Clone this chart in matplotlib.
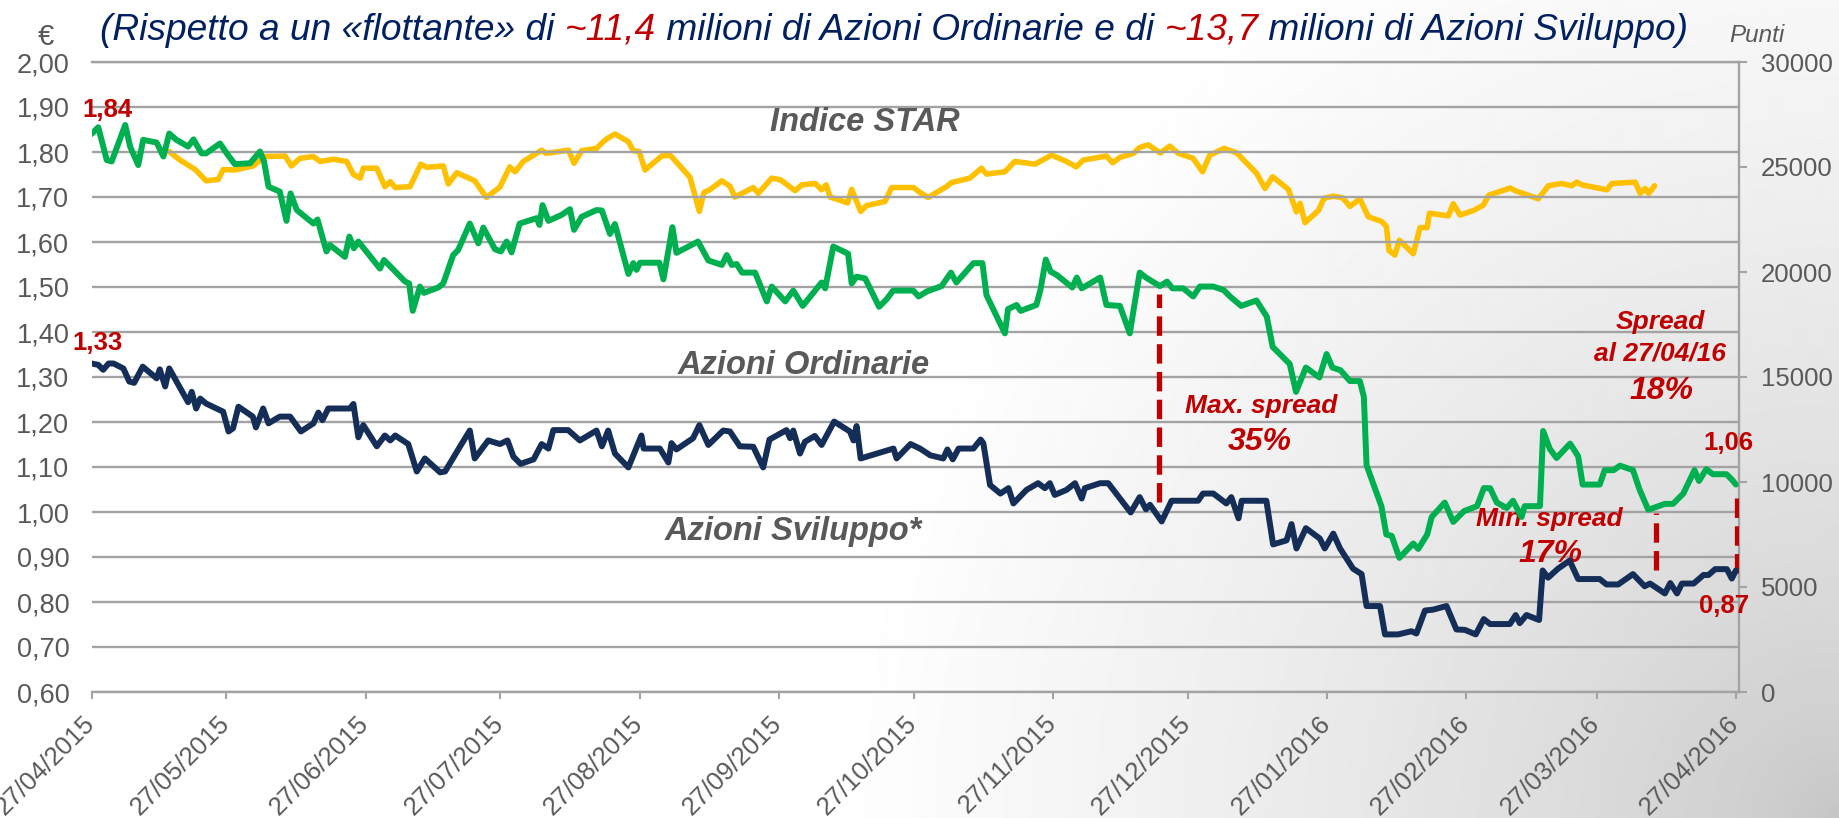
import numpy as np
import pandas as pd
import matplotlib
matplotlib.use("Agg")
import matplotlib.pyplot as plt
import matplotlib.dates as mdates
from matplotlib.transforms import ScaledTranslation

plt.rcParams['font.family'] = ['Liberation Sans', 'DejaVu Sans']
plt.rcParams['lines.scale_dashes'] = False

# ---------------- data ----------------
START = pd.Timestamp('2015-04-27')   # day 0 of the day offsets below

# Azioni Ordinarie (EUR)
ord_days = [0, 1.5, 3.4, 4.5, 7.5, 8.6, 10.4, 11.5, 14.5, 16.0, 17.3, 18.9, 21.5, 22.7, 24.5, 25.5,
            28.6, 30.1, 31.9, 35.3, 37.5, 38.4, 39.4, 41.9, 43.4, 44.3, 45.7, 49.4, 50.3, 52.3, 53.1,
            56.4, 57.4, 58.4, 59.4, 64.2, 65.1, 69.8, 70.7, 71.5, 73.1, 74.0, 77.2, 78.3, 80.5, 81.6,
            84.2, 86.1, 87.2, 89.8, 91.1, 92.4, 93.5, 95.3, 99.1, 99.7, 100.4, 101.7, 104.6, 106.5,
            107.4, 109.1, 112.4, 113.6, 115.4, 116.5, 119.5, 120.6, 121.3, 122.1, 126.4, 127.3,
            129.3, 130.2, 135.0, 137.3, 140.3, 141.4, 142.5, 143.6, 144.8, 147.7, 150.3, 151.4,
            154.4, 156.2, 158.3, 162.5, 163.3, 165.1, 168.4, 169.2, 170.3, 172.2, 175.3, 177.0,
            178.4, 182.9, 184.1, 185.9, 189.2, 191.3, 192.5, 196.3, 198.3, 199.2, 203.3, 204.0,
            205.9, 206.8, 210.3, 211.2, 212.4, 213.5, 214.8, 218.3, 219.3, 220.4, 224.5, 225.9,
            228.9, 231.1, 233.3, 234.7, 237.8, 239.4, 240.6, 243.0, 245.2, 246.7, 249.7, 252.0,
            253.4, 255.9, 259.3, 261.6, 262.9, 266.7, 268.1, 270.3, 273.3, 274.9, 276.2, 278.0,
            280.1, 282.3, 283.2, 283.8, 287.1, 288.2, 289.4, 291.1, 294.2, 295.3, 297.3, 298.3,
            301.2, 303.1, 305.5, 308.4, 309.9, 311.3, 312.8, 315.0, 316.4, 318.3, 319.0, 322.4,
            323.1, 324.6, 326.1, 329.1, 330.9, 331.9, 335.7, 336.8, 338.8, 340.2, 343.1, 344.6,
            346.5, 350.2, 352.0, 354.3, 356.8, 357.8, 359.4, 360.9, 363.9, 365.2, 366.0]
ord_vals = [1.840, 1.855, 1.782, 1.779, 1.860, 1.812, 1.771, 1.827, 1.821, 1.790, 1.841, 1.827,
            1.812, 1.828, 1.797, 1.797, 1.819, 1.797, 1.773, 1.775, 1.801, 1.779, 1.723, 1.712,
            1.647, 1.708, 1.671, 1.641, 1.650, 1.579, 1.593, 1.567, 1.612, 1.586, 1.601, 1.541,
            1.560, 1.512, 1.508, 1.447, 1.501, 1.487, 1.499, 1.508, 1.571, 1.582, 1.641, 1.597,
            1.632, 1.584, 1.579, 1.601, 1.577, 1.641, 1.653, 1.638, 1.682, 1.647, 1.660, 1.673,
            1.627, 1.656, 1.671, 1.670, 1.618, 1.640, 1.529, 1.553, 1.538, 1.554, 1.554, 1.517,
            1.633, 1.576, 1.601, 1.559, 1.549, 1.571, 1.549, 1.551, 1.532, 1.532, 1.468, 1.501,
            1.468, 1.492, 1.458, 1.510, 1.497, 1.590, 1.574, 1.508, 1.523, 1.519, 1.456, 1.473,
            1.492, 1.492, 1.479, 1.490, 1.502, 1.532, 1.510, 1.553, 1.553, 1.482, 1.397, 1.451,
            1.460, 1.447, 1.460, 1.493, 1.561, 1.534, 1.527, 1.499, 1.521, 1.497, 1.521, 1.460,
            1.458, 1.397, 1.532, 1.521, 1.502, 1.512, 1.497, 1.497, 1.479, 1.501, 1.501, 1.493,
            1.479, 1.458, 1.470, 1.434, 1.367, 1.329, 1.267, 1.321, 1.299, 1.351, 1.321, 1.315,
            1.291, 1.291, 1.256, 1.104, 1.013, 0.950, 0.947, 0.898, 0.930, 0.918, 0.950, 0.989,
            1.021, 0.978, 1.002, 1.013, 1.053, 1.053, 1.021, 1.009, 1.025, 0.989, 1.013, 1.013,
            1.180, 1.140, 1.120, 1.152, 1.124, 1.061, 1.061, 1.093, 1.093, 1.103, 1.093, 1.049,
            1.005, 1.018, 1.018, 1.041, 1.093, 1.069, 1.095, 1.084, 1.084, 1.071, 1.061]

# Azioni Sviluppo (EUR)
svi_days = [0, 1.5, 2.6, 3.8, 4.9, 7.1, 8.4, 9.5, 11.4, 14.5, 15.2, 16.4, 17.3, 21.5, 22.3, 23.3,
            24.2, 25.5, 29.3, 30.5, 31.5, 32.7, 35.9, 36.6, 38.2, 39.4, 41.9, 44.2, 46.6, 49.4,
            50.5, 51.4, 52.7, 57.5, 58.3, 59.4, 60.5, 63.5, 65.3, 66.5, 67.6, 70.5, 72.4, 74.2,
            77.6, 78.7, 82.0, 84.2, 85.3, 88.3, 90.9, 92.6, 93.9, 95.5, 98.4, 100.2, 101.7, 102.8,
            106.1, 108.7, 112.4, 113.6, 115.0, 116.5, 119.5, 122.4, 122.9, 126.5, 128.4, 129.1,
            130.2, 133.9, 135.3, 137.3, 140.6, 142.1, 144.3, 147.3, 149.5, 150.9, 154.7, 155.5,
            156.2, 157.7, 158.8, 161.0, 162.5, 165.3, 168.8, 169.6, 170.3, 171.2, 178.5, 179.2,
            182.3, 184.4, 186.7, 189.6, 190.5, 191.7, 193.0, 196.3, 197.9, 198.5, 200.0, 202.3,
            204.1, 205.2, 208.1, 210.7, 212.2, 213.3, 214.4, 217.0, 218.9, 220.4, 221.1, 224.5,
            226.3, 228.9, 231.3, 233.3, 234.7, 235.6, 238.2, 240.4, 246.3, 247.4, 249.7, 252.6,
            253.7, 255.3, 256.0, 261.5, 263.0, 266.0, 267.1, 268.2, 270.3, 273.4, 274.5, 276.4,
            277.9, 280.8, 282.7, 283.8, 286.8, 287.9, 290.8, 293.8, 294.9, 296.8, 298.6, 301.6,
            303.8, 305.7, 308.1, 309.9, 311.3, 315.7, 317.0, 317.9, 319.4, 322.2, 323.0, 324.2,
            326.4, 329.0, 330.9, 335.7, 337.2, 339.8, 343.1, 345.7, 346.9, 350.2, 351.4, 352.9,
            354.0, 356.6, 358.8, 359.9, 361.4, 364.0, 365.1, 366.0]
svi_vals = [1.330, 1.327, 1.316, 1.330, 1.330, 1.319, 1.290, 1.287, 1.323, 1.297, 1.317, 1.279,
            1.319, 1.244, 1.267, 1.230, 1.252, 1.241, 1.223, 1.179, 1.186, 1.234, 1.212, 1.188,
            1.230, 1.197, 1.212, 1.212, 1.179, 1.197, 1.221, 1.204, 1.230, 1.230, 1.240, 1.166,
            1.193, 1.146, 1.170, 1.159, 1.170, 1.151, 1.090, 1.119, 1.088, 1.090, 1.145, 1.181,
            1.119, 1.159, 1.151, 1.159, 1.123, 1.107, 1.117, 1.151, 1.141, 1.182, 1.182, 1.159,
            1.181, 1.146, 1.181, 1.130, 1.099, 1.170, 1.141, 1.141, 1.110, 1.153, 1.139, 1.164,
            1.193, 1.149, 1.181, 1.179, 1.146, 1.145, 1.099, 1.161, 1.182, 1.164, 1.181, 1.130,
            1.156, 1.169, 1.149, 1.201, 1.179, 1.159, 1.191, 1.119, 1.141, 1.119, 1.151, 1.141,
            1.126, 1.119, 1.139, 1.117, 1.141, 1.141, 1.161, 1.153, 1.060, 1.041, 1.053, 1.019,
            1.049, 1.064, 1.053, 1.064, 1.038, 1.049, 1.064, 1.030, 1.053, 1.064, 1.064, 1.030,
            0.999, 1.033, 1.006, 1.016, 0.979, 1.025, 1.025, 1.041, 1.041, 1.019, 1.033, 0.986,
            1.025, 1.025, 0.928, 0.937, 0.973, 0.919, 0.964, 0.941, 0.919, 0.952, 0.919, 0.874,
            0.862, 0.791, 0.791, 0.728, 0.728, 0.735, 0.730, 0.781, 0.783, 0.791, 0.739, 0.738,
            0.728, 0.762, 0.751, 0.751, 0.771, 0.753, 0.771, 0.760, 0.870, 0.854, 0.874, 0.892,
            0.851, 0.851, 0.839, 0.839, 0.862, 0.835, 0.841, 0.819, 0.842, 0.819, 0.841, 0.841,
            0.860, 0.860, 0.873, 0.873, 0.852, 0.870]

# Indice STAR (points, right axis)
star_days = [17.3, 19.7, 23.1, 25.5, 28.2, 29.3, 31.9, 36.0, 38.6, 43.1, 44.5, 46.4, 49.4, 50.9,
             53.8, 56.8, 58.3, 59.8, 60.5, 63.5, 65.3, 66.5, 67.6, 70.9, 73.3, 74.6, 78.3, 79.4,
             81.3, 85.3, 87.9, 90.9, 93.1, 94.3, 96.1, 100.2, 101.2, 106.2, 107.4, 109.1, 112.4,
             113.9, 114.8, 116.5, 119.5, 120.6, 121.9, 123.2, 126.9, 128.8, 133.2, 135.3, 136.3,
             137.6, 140.3, 142.1, 143.2, 147.3, 148.4, 151.4, 153.4, 156.6, 158.1, 161.1, 162.5,
             163.5, 164.4, 168.3, 169.2, 171.2, 172.5, 176.6, 178.1, 183.0, 184.4, 186.2, 190.3,
             191.4, 195.5, 198.1, 199.2, 203.3, 205.5, 210.0, 213.7, 217.0, 219.2, 220.7, 225.9,
             227.3, 228.9, 231.9, 233.3, 235.2, 237.9, 240.0, 241.9, 245.2, 247.3, 248.9, 252.1,
             254.9, 259.3, 261.2, 262.9, 266.4, 268.2, 269.0, 270.1, 273.1, 274.3, 276.4, 278.5,
             280.1, 282.3, 284.2, 287.1, 288.2, 288.8, 290.1, 291.1, 294.2, 295.7, 297.3, 297.8,
             302.0, 303.1, 304.6, 307.6, 309.8, 311.0, 315.8, 316.9, 322.0, 324.3, 327.2, 329.5,
             330.6, 331.7, 337.3, 338.4, 343.6, 344.7, 345.8, 346.6, 347.9]
star_pts = [25736, 25329, 24879, 24343, 24407, 24879, 24857, 25050, 25500, 25521, 25050, 25414,
            25500, 25264, 25371, 25264, 24643, 24471, 24943, 24943, 24064, 24300, 24021, 24064,
            25136, 24986, 25050, 24193, 24729, 24343, 23550, 24043, 25007, 24771, 25264, 25800,
            25650, 25800, 25179, 25779, 25886, 26207, 26357, 26571, 26207, 25779, 25736, 24857,
            25521, 25564, 24514, 22886, 23786, 23914, 24343, 24086, 23571, 24021, 23743, 24471,
            24386, 23871, 24150, 24214, 23914, 24150, 23571, 23293, 23936, 22886, 23164, 23357,
            24021, 24021, 23786, 23550, 24064, 24257, 24471, 24943, 24664, 24771, 25264, 25136,
            25564, 25264, 25007, 25329, 25521, 25200, 25457, 25650, 25929, 26057, 25671, 25993,
            25650, 25414, 24771, 25564, 25886, 25671, 24707, 23979, 24536, 23936, 22864, 23271,
            22350, 22929, 23507, 23614, 23529, 23121, 23486, 22629, 22414, 22179, 21021, 20807,
            21514, 20871, 22114, 22114, 22800, 22671, 23250, 22714, 22929, 23186, 23657, 24000,
            23871, 23486, 24107, 24214, 24107, 24279, 24150, 23914, 24214, 24279, 23743, 23979,
            23743, 24107]

# spreads (day offset, upper value, lower value)
spread_days = [237.5, 348.2, 366.2]
spread_top = [1.485, 0.997, 1.050]
spread_bot = [1.023, 0.871, 0.864]

tick_dates = pd.date_range('2015-04-27', periods=13, freq=pd.DateOffset(months=1))
tick_labels = [d.strftime('%d/%m/%Y') for d in tick_dates]
left_ticks = np.round(np.arange(0.6, 2.0001, 0.1), 2)
left_labels = [f"{v:.2f}".replace('.', ',') for v in left_ticks]
right_ticks = list(range(0, 30001, 5000))
right_labels = [str(v) for v in right_ticks]

# ---------------- style ----------------
W, H = 1839, 818
GREEN = '#00B050'
NAVY = '#142E57'
GOLD = '#FFC000'
RED = '#C00000'
GRAY = '#595959'
GRID = '#A3A3A3'
TITLE = '#002060'


def to_num(days):
    return mdates.date2num(START + pd.to_timedelta(np.asarray(days, dtype=float), unit='D'))


fig = plt.figure(figsize=(W / 100, H / 100), dpi=100)
fig.patch.set_facecolor('white')

# soft grey background gradient toward lower right
bg = fig.add_axes([0, 0, 1, 1], zorder=-10)
yy, xx = np.mgrid[0:H:2, 0:W:2]
t = np.sqrt(((W - xx) / 1000.0) ** 2 + ((H - yy) / 1000.0) ** 2)
g = 0.77 + 0.23 * np.clip(t, 0, 1) ** 0.7
bg.imshow(g, cmap='gray', vmin=0, vmax=1, extent=[0, 1, 0, 1], aspect='auto', origin='upper')
bg.axis('off')

ax = fig.add_axes([91.5 / W, 126 / H, (1739 - 91.5) / W, 630 / H])
ax2 = ax.twinx()
ax.set_zorder(ax2.get_zorder() + 1)
ax.patch.set_visible(False)
ax2.patch.set_visible(False)

ax.set_xlim(to_num([0])[0], to_num([366.7])[0])
ax.set_ylim(0.6, 2.0)
ax2.set_ylim(0, 30000)

# lines
ax2.plot(to_num(star_days), star_pts, color=GOLD, lw=4.0, solid_joinstyle='round',
         solid_capstyle='round', zorder=3)
ax.plot(to_num(svi_days), svi_vals, color=NAVY, lw=4.3, solid_joinstyle='round',
        solid_capstyle='round', zorder=4)
ax.plot(to_num(ord_days), ord_vals, color=GREEN, lw=4.3, solid_joinstyle='round',
        solid_capstyle='round', zorder=5)
ax.vlines(to_num(spread_days), spread_bot, spread_top, colors=RED, lw=3.8,
          linestyles=[(0, (14, 6))], zorder=2)

# axes styling
ax.set_yticks(left_ticks, left_labels)
ax.yaxis.grid(True, color=GRID, lw=1.7)
ax.set_axisbelow(True)
for s in ['left', 'right']:
    ax.spines[s].set_visible(False)
for s in ['top', 'bottom']:
    ax.spines[s].set_color(GRID)
    ax.spines[s].set_linewidth(1.7)
ax.tick_params(axis='y', length=0, pad=16.0, labelsize=19.5, labelcolor=GRAY)
ax.set_xticks(tick_dates, tick_labels, rotation=45, ha='right', va='top')
ax.tick_params(axis='x', length=4.7, width=1.5, color=GRID, pad=9.0, labelsize=18.5, labelcolor=GRAY)
offset = ScaledTranslation(8 / 100, 0, fig.dpi_scale_trans)
for lbl in ax.get_xticklabels():
    lbl.set_transform(lbl.get_transform() + offset)

for s in ['left', 'top', 'bottom']:
    ax2.spines[s].set_visible(False)
ax2.spines['right'].set_color(GRID)
ax2.spines['right'].set_linewidth(1.7)
ax2.set_yticks(right_ticks, right_labels)
ax2.tick_params(axis='y', length=5.5, width=1.5, color=GRID, pad=10.5, labelsize=18.5, labelcolor=GRAY)


def ftxt(x, y, s, **kw):
    kw.setdefault('ha', 'center')
    kw.setdefault('va', 'baseline')
    return ax.text(x / W, 1 - y / H, s, transform=fig.transFigure, zorder=1, **kw)


# series labels
lab = dict(color=GRAY, fontsize=23.5, fontweight='bold', fontstyle='italic')
ftxt(865, 131, 'Indice STAR', **lab)
ftxt(804, 374, 'Azioni Ordinarie', **lab)
ftxt(793, 540, 'Azioni Sviluppo*', **lab)

# red annotations
rb = dict(color=RED, fontsize=18.5, fontweight='bold')
rbi = dict(color=RED, fontsize=19, fontweight='bold', fontstyle='italic')
rbig = dict(color=RED, fontsize=23, fontweight='bold', fontstyle='italic')
ftxt(107, 117, '1,84', **rb)
ftxt(98, 350, '1,33', **rb)
ftxt(1728, 450, '1,06', **rb)
ftxt(1724, 613, '0,87', **rb)
ftxt(1261, 413, 'Max. spread', **rbi)
ftxt(1260, 450, '35%', **rbig)
ftxt(1549, 526, 'Min. spread', **rbi)
ftxt(1550, 562, '17%', **rbig)
ftxt(1660, 329, 'Spread', **rbi)
ftxt(1660, 361, 'al 27/04/16', **rbi)
ftxt(1661, 399, '18%', **rbig)

# unit labels
fig.text(46 / W, 1 - 45 / H, '€', color=GRAY, fontsize=21, ha='center', va='baseline')
fig.text(1757 / W, 1 - 42 / H, 'Punti', color=GRAY, fontsize=17.5, fontstyle='italic',
         ha='center', va='baseline')

# multi-colour title, fitted to the reference width
pieces = [('(Rispetto a un «flottante» di ', TITLE), ('~11,4', RED),
          (' milioni di Azioni Ordinarie e di ', TITLE), ('~13,7', RED),
          (' milioni di Azioni Sviluppo)', TITLE)]
renderer = fig.canvas.get_renderer()


def draw_title(size):
    arts = []
    x = 100.0
    for s, c in pieces:
        tx = fig.text(x / W, 1 - 40 / H, s, color=c, fontsize=size, fontstyle='italic',
                      ha='left', va='baseline')
        bb = tx.get_window_extent(renderer)
        x += bb.width
        arts.append(tx)
    return arts, x - 100.0


arts, width = draw_title(25)
for a in arts:
    a.remove()
draw_title(25 * 1589.0 / width)

fig.savefig('out.png', dpi=100)
